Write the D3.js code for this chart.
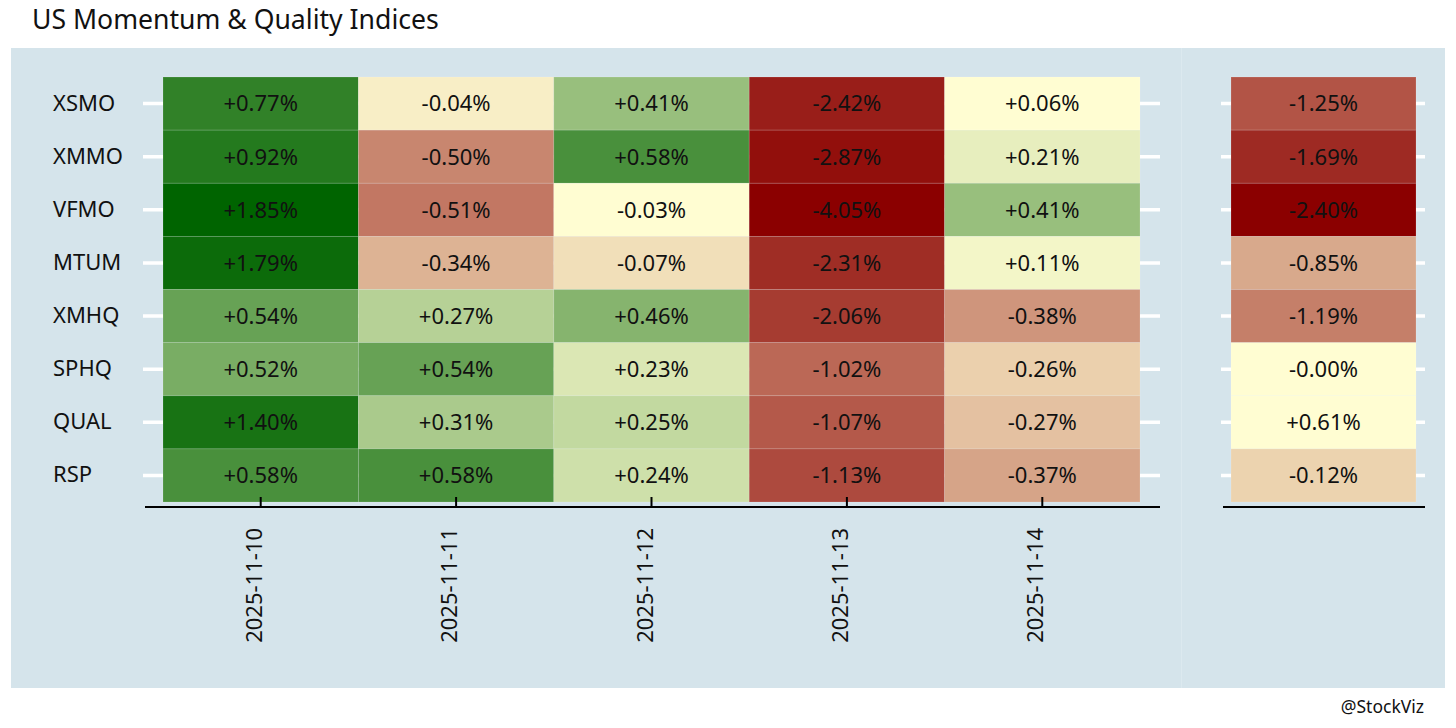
<!DOCTYPE html>
<html>
<head>
<meta charset="utf-8">
<script src="https://cdn.jsdelivr.net/npm/d3@7"></script>
<style>
  body { margin: 0; background: #fff; }
  svg { display: block; font-family: "Noto Sans", sans-serif; }
</style>
</head>
<body>
<div id="chart"></div>
<script>
// Data
const tickers = ["XSMO", "XMMO", "VFMO", "MTUM", "XMHQ", "SPHQ", "QUAL", "RSP"];
const dates = ["2025-11-10", "2025-11-11", "2025-11-12", "2025-11-13", "2025-11-14"];
// daily returns (%), one row per ticker, one column per date
const dailyReturns = [
    [0.77, -0.04, 0.41, -2.42, 0.06],
    [0.92, -0.50, 0.58, -2.87, 0.21],
    [1.85, -0.51, -0.03, -4.05, 0.41],
    [1.79, -0.34, -0.07, -2.31, 0.11],
    [0.54, 0.27, 0.46, -2.06, -0.38],
    [0.52, 0.54, 0.23, -1.02, -0.26],
    [1.40, 0.31, 0.25, -1.07, -0.27],
    [0.58, 0.58, 0.24, -1.13, -0.37]
];
// cumulative return for the week (%)
const weekReturns = [-1.25, -1.69, -2.40, -0.85, -1.19, -0.001, 0.61, -0.12];

const W = 1456, H = 728;
const bg = "#d5e4eb";
const lowCol = "#8b0000", midCol = "#fffdd2", highCol = "#006400";
const fmt = v => d3.format("+.2f")(v).replace("\u2212", "-") + "%";

const svg = d3.select("#chart").append("svg")
    .attr("width", W)
    .attr("height", H);

// plot backgrounds (two plots side by side)
svg.append("rect").attr("x", 11).attr("y", 48).attr("width", 1434).attr("height", 640).attr("fill", bg);
svg.append("line").attr("x1", 1181.5).attr("x2", 1181.5).attr("y1", 48).attr("y2", 688)
    .attr("stroke", "#dce9ef").attr("stroke-width", 1);

// title and caption
svg.append("text").attr("x", 32).attr("y", 29).attr("font-size", 26.6).attr("fill", "#111")
    .text("US Momentum & Quality Indices");
svg.append("text").attr("x", 1424).attr("y", 713).attr("font-size", 17.5).attr("fill", "#111")
    .attr("text-anchor", "end").text("@StockViz");

// colours by rank: negatives darkred -> lightyellow, positives lightyellow -> darkgreen
function rankColor(values) {
    const neg = values.filter(v => v < 0).sort(d3.ascending);
    const pos = values.filter(v => v >= 0).sort(d3.ascending);
    const toRed = d3.interpolateRgb(lowCol, midCol);
    const toGreen = d3.interpolateRgb(midCol, highCol);
    return v => {
        if (v < 0) {
            const i = d3.mean(neg.map((n, k) => n === v ? k : null).filter(k => k !== null));
            return toRed(neg.length > 1 ? i / (neg.length - 1) : 1);
        }
        const i = d3.mean(pos.map((p, k) => p === v ? k : null).filter(k => k !== null));
        return toGreen(pos.length > 1 ? i / (pos.length - 1) : 0);
    };
}

const y = d3.scaleBand().domain(tickers).range([77, 502]);

function drawPanel(cells, x, panelX0, panelX1, showX) {
    const g = svg.append("g");
    const color = rankColor(cells.map(d => d.value));

    // horizontal white grid lines
    g.selectAll("line.grid")
        .data(tickers)
        .enter().append("line")
        .attr("class", "grid")
        .attr("x1", panelX0).attr("x2", panelX1)
        .attr("y1", d => y(d) + y.bandwidth() / 2)
        .attr("y2", d => y(d) + y.bandwidth() / 2)
        .attr("stroke", "#fff")
        .attr("stroke-width", 3.5);

    g.selectAll("rect.tile")
        .data(cells)
        .enter().append("rect")
        .attr("class", "tile")
        .attr("x", d => x(d.date))
        .attr("y", d => y(d.ticker))
        .attr("width", x.bandwidth())
        .attr("height", y.bandwidth())
        .attr("fill", d => color(d.value))
        .attr("stroke", "rgba(255,255,255,0.18)")
        .attr("stroke-width", 0.8);

    g.selectAll("text.val")
        .data(cells)
        .enter().append("text")
        .attr("class", "val")
        .attr("x", d => x(d.date) + x.bandwidth() / 2)
        .attr("y", d => y(d.ticker) + y.bandwidth() / 2)
        .attr("dy", "0.36em")
        .attr("text-anchor", "middle")
        .attr("font-size", 22)
        .attr("fill", "#111")
        .text(d => fmt(d.value));

    // x axis line
    g.append("line")
        .attr("x1", panelX0 + 2).attr("x2", panelX1)
        .attr("y1", 507).attr("y2", 507)
        .attr("stroke", "#000").attr("stroke-width", 2);

    if (showX) {
        const ax = g.append("g")
            .attr("transform", "translate(0,507)")
            .call(d3.axisBottom(x).tickSize(-10).tickSizeOuter(0));
        ax.select(".domain").remove();
        ax.selectAll(".tick line").attr("stroke", "#000").attr("stroke-width", 2);
        ax.selectAll(".tick text")
            .attr("font-family", "Noto Sans, sans-serif")
            .attr("font-size", 22)
            .attr("fill", "#111")
            .attr("text-anchor", "end")
            .attr("transform", "translate(1,21) rotate(-90)")
            .attr("x", 0).attr("y", 0).attr("dy", 0);
    }
    return g;
}

// left panel: daily returns
const dailyCells = [];
tickers.forEach((t, i) => dates.forEach((d, j) => dailyCells.push({ ticker: t, date: d, value: dailyReturns[i][j] })));
const xLeft = d3.scaleBand().domain(dates).range([163, 1140]);
drawPanel(dailyCells, xLeft, 143, 1160, true);

// right panel: week total
const weekCells = tickers.map((t, i) => ({ ticker: t, date: "week", value: weekReturns[i] }));
const xRight = d3.scaleBand().domain(["week"]).range([1231, 1416]);
drawPanel(weekCells, xRight, 1221, 1425, false);

// y axis labels
const ay = svg.append("g")
    .attr("transform", "translate(143,0)")
    .call(d3.axisLeft(y).tickSize(0));
ay.select(".domain").remove();
ay.selectAll(".tick text")
    .attr("font-family", "Noto Sans, sans-serif")
    .attr("font-size", 22)
    .attr("fill", "#111")
    .attr("text-anchor", "start")
    .attr("x", -90);
</script>
</body>
</html>
